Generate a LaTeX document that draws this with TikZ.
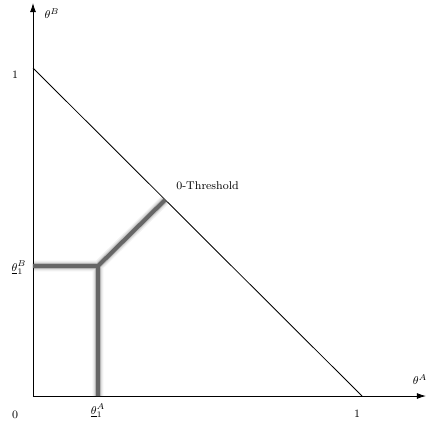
\documentclass[tikz,border=0pt]{standalone}
\usetikzlibrary{arrows.meta}
\definecolor{bandgray}{RGB}{102,102,102}
\tikzset{
  axis/.style={line width=0.6pt, -{Latex[length=2.3mm,width=1.5mm]}},
  thin line/.style={line width=0.6pt},
  lbl/.style={font=\footnotesize, inner sep=0pt},
  band/.style={line width=2.9pt, draw=bandgray},
  shade1/.style={line width=7.5pt, draw=black, opacity=0.05},
  shade2/.style={line width=5.8pt, draw=black, opacity=0.08},
  shade3/.style={line width=4.2pt, draw=black, opacity=0.12},
}
\begin{document}
\begin{tikzpicture}[x=0.025cm, y=-0.025cm]
\useasboundingbox (0,0) rectangle (428,430);
\fill[white] (0,0) rectangle (428,430);
% key points
\coordinate (O) at (33,396);
\coordinate (Ytop) at (33,3);
\coordinate (Xend) at (426,396);
\coordinate (Y1) at (33,68);
\coordinate (X1) at (362,396);
\coordinate (L) at (33,266);
\coordinate (K) at (98,266);
\coordinate (B) at (98,396);
\coordinate (T) at (165,200);
% axes
\draw[axis] (O) -- (Ytop);
\draw[axis] (O) -- (Xend);
% budget line
\draw[thin line] (Y1) -- (X1);
% shadows
\foreach \s in {shade1,shade2,shade3}{
  \draw[\s, shift={(2.4,2.4)}] (L) -- (K) -- (B) (K) -- (T);
}
\draw[band] (L) -- (K) -- (B) (K) -- (T);
% labels
\node[lbl] (l0) at (15,415) {0};
\node[lbl] (lx1) at (357,414) {1};
\node[lbl] (ly1) at (15,75) {1};
\node[lbl] (thB) at (52,14) {$\theta^B$};
\node[lbl] (thA) at (420,380) {$\theta^A$};
\node[lbl] (thB1) at (19,268) {$\underline{\theta}_1^B$};
\node[lbl] (thA1) at (98,411) {$\underline{\theta}_1^A$};
\node[lbl, anchor=west] (thr) at (176,186) {0-Threshold};
\end{tikzpicture}
\end{document}
